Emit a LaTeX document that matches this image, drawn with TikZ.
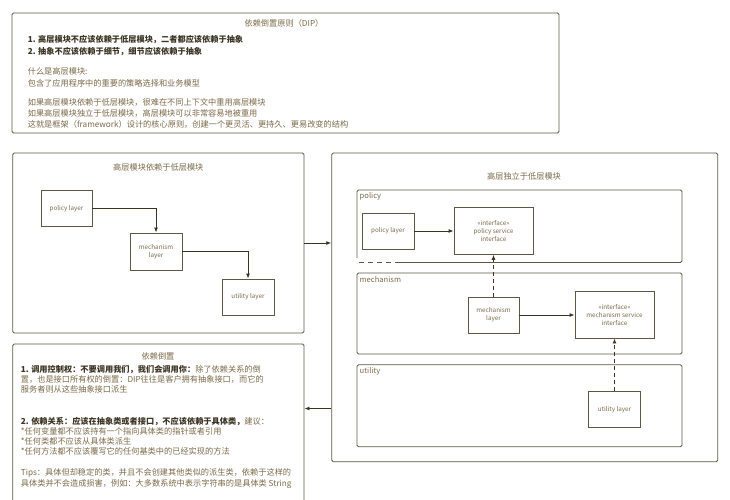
\documentclass[tikz,border=0pt]{standalone}
\usepackage{fontspec}
\setmainfont{Noto Sans CJK SC}
\usetikzlibrary{arrows.meta}
\definecolor{bord}{HTML}{5C5845}
\definecolor{txt}{HTML}{7A6A48}
\definecolor{btxt}{HTML}{3B3423}
\begin{document}
\begin{tikzpicture}[x=1pt,y=-1pt,
  frame/.style={draw=bord, line width=0.9pt, rounded corners=1.5pt, inner sep=0pt},
  layerbox/.style={draw=bord, line width=0.9pt, inner sep=0pt, align=center, text=txt,
    font=\fontsize{6.3}{8.3}\selectfont},
  ln/.style={anchor=west, inner sep=0pt, text=txt, font=\fontsize{8.2}{10}\selectfont},
  bln/.style={ln, text=btxt, font=\fontsize{8.2}{10}\selectfont\bfseries},
  ttl/.style={inner sep=0pt, text=txt, font=\fontsize{8.2}{10}\selectfont},
  clbl/.style={anchor=west, inner sep=0pt, text=txt, font=\fontsize{7.6}{9}\selectfont},
  conn/.style={draw=btxt, line width=0.9pt, -{Latex[length=5pt,width=4pt]}},
  dconn/.style={conn, dash pattern=on 4pt off 3pt}]
\useasboundingbox (0,0) rectangle (730,500);
\clip (0,0) rectangle (730,500);
\fill[white] (0,0) rectangle (730,500);

% ---------- top box ----------
\node[frame, minimum width=547pt, minimum height=120pt] (top) at (285.5,73) {};
\node[ttl] (toptitle) at (284,23) {依赖倒置原则（DIP）};
\node[bln] (t1) at (27.6,39.5) {1. 高层模块不应该依赖于低层模块，二者都应该依赖于抽象};
\node[bln] (t2) at (27.6,51.3) {2. 抽象不应该依赖于细节，细节应该依赖于抽象};
\node[ln] (t3) at (27.6,71.7) {什么是高层模块:};
\node[ln] (t4) at (27.6,83.3) {包含了应用程序中的重要的策略选择和业务模型};
\node[ln] (t5) at (27.6,102.2) {如果高层模块依赖于低层模块，很难在不同上下文中重用高层模块};
\node[ln] (t6) at (27.6,113.8) {如果高层模块独立于低层模块，高层模块可以非常容易地被重用};
\node[ln] (t7) at (27.6,124.6) {这就是框架（framework）设计的核心原则，创建一个更灵活、更持久、更易改变的结构};

% ---------- left middle box ----------
\node[frame, minimum width=291.3pt, minimum height=180pt] (left) at (158.35,243) {};
\node[ttl] (lefttitle) at (158.3,167.7) {高层模块依赖于低层模块};
\node[layerbox, minimum width=51pt, minimum height=36pt] (lpl) at (66.5,208.7) {policy layer};
\node[layerbox, minimum width=52pt, minimum height=37pt] (lml) at (156,251.5) {mechanism\\layer};
\node[layerbox, minimum width=52pt, minimum height=36pt] (lul) at (248,297) {utility layer};
\draw[conn] (lpl.east) -| (lml.north);
\draw[conn] (lml.east) -| (lul.north);

% ---------- right box ----------
\node[frame, minimum width=386pt, minimum height=308.7pt] (right) at (524.7,307.35) {};
\node[ttl] (righttitle) at (524,176.7) {高层独立于低层模块};

% policy container
\draw[bord, line width=0.9pt, rounded corners=1.5pt]
  (395,262.5) -- (682,262.5) -- (682,190) -- (357,190) -- (357,258);
\draw[bord, line width=0.9pt, dash pattern=on 5pt off 4pt] (359,262.5) -- (395,262.5);
\node[clbl] (cpol) at (359.5,196) {policy};
\node[layerbox, minimum width=52pt, minimum height=36pt] (rpl) at (388,231) {policy layer};
\node[layerbox, minimum width=79pt, minimum height=46.6pt] (rpi) at (493.5,231) {«interface»\\policy service\\interface};

% mechanism container
\node[frame, minimum width=325pt, minimum height=81pt] (cmechbox) at (519.5,313.5) {};
\node[clbl] (cmech) at (359.5,280) {mechanism};
\node[layerbox, minimum width=51pt, minimum height=36pt] (rml) at (493.5,315) {mechanism\\layer};
\node[layerbox, minimum width=79pt, minimum height=46.3pt] (rmi) at (614.5,314.85) {«interface»\\mechanism service\\interface};

% utility container
\node[frame, minimum width=325pt, minimum height=82pt] (cutilbox) at (519.5,405.7) {};
\node[clbl] (cutil) at (359.5,371.7) {utility};
\node[layerbox, minimum width=52pt, minimum height=36pt] (rul) at (614.5,409.7) {utility layer};

\draw[conn] (rpl.east) -- (rpi.west);
\draw[conn] (rml.east) -- (rmi.west |- rml.east);
\draw[dconn] (rml.north) -- (rpi.south);
\draw[dconn] (rul.north) -- (rmi.south);

% ---------- bottom left box ----------
\node[frame, minimum width=291.3pt, minimum height=170pt] (bot) at (158.35,429) {};
\node[ttl] (bottitle) at (158,356.7) {依赖倒置};
\node[ln] (b1) at (20.7,369.3) {{\color{btxt}\bfseries 1. 调用控制权：不要调用我们，我们会调用你：}除了依赖关系的倒};
\node[ln] (b2) at (20.7,379.3) {置，也是接口所有权的倒置：DIP往往是客户拥有抽象接口，而它的};
\node[ln] (b3) at (20.7,389.3) {服务者则从这些抽象接口派生};
\node[ln] (b4) at (20.7,421.7) {{\color{btxt}\bfseries 2. 依赖关系：应该在抽象类或者接口，不应该依赖于具体类，}建议：};
\node[ln] (b5) at (20.7,431.3) {*任何变量都不应该持有一个指向具体类的指针或者引用};
\node[ln] (b6) at (20.7,441) {*任何类都不应该从具体类派生};
\node[ln] (b7) at (20.7,451) {*任何方法都不应该覆写它的任何基类中的已经实现的方法};
\node[ln] (b8) at (20.7,473.3) {Tips：具体但却稳定的类，并且不会创建其他类似的派生类，依赖于这样的};
\node[ln] (b9) at (20.7,484) {具体类并不会造成损害，例如：大多数系统中表示字符串的是具体类 String};

% ---------- connectors between big boxes ----------
\draw[conn] (left.east) -- (right.west |- left.east);
\draw[conn] (right.west |- 0,408.5) -- (bot.east |- 0,408.5);
\end{tikzpicture}
\end{document}
